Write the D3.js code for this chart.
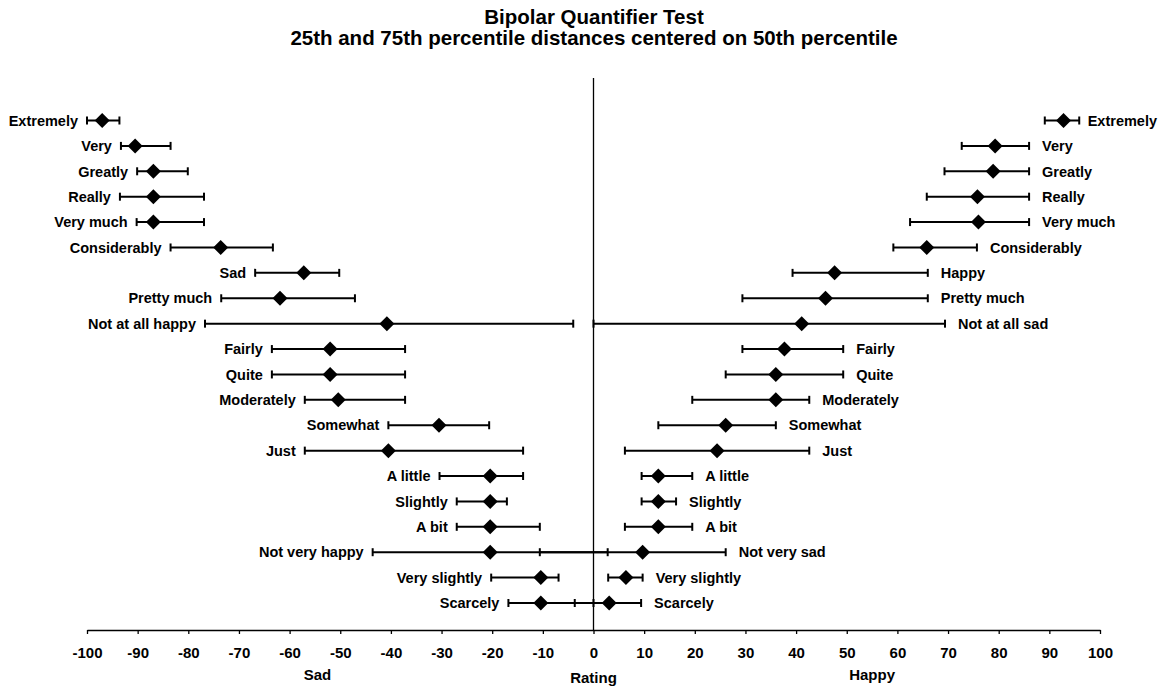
<!DOCTYPE html>
<html><head><meta charset="utf-8">
<script src="https://cdn.jsdelivr.net/npm/d3@7"></script>
<style>
body{margin:0;background:#fff}
text{font-family:"Liberation Sans",Arial,Helvetica,sans-serif;font-weight:bold;fill:#000}
</style>
</head><body>
<svg id="chart" width="1160" height="686"></svg>
<script>
const titleLines = ["Bipolar Quantifier Test", "25th and 75th percentile distances centered on 50th percentile"];

const sadLabels = ["Extremely","Very","Greatly","Really","Very much","Considerably","Sad","Pretty much","Not at all happy","Fairly","Quite","Moderately","Somewhat","Just","A little","Slightly","A bit","Not very happy","Very slightly","Scarcely"];
const sadMedian = [-97,-90.5,-86.9,-86.9,-86.9,-73.6,-57.2,-61.9,-40.8,-52,-52,-50.4,-30.5,-40.5,-20.4,-20.4,-20.4,-20.4,-10.4,-10.4];
const sadLow    = [-100,-93.3,-90.1,-93.5,-90.2,-83.5,-66.8,-73.5,-76.7,-63.5,-63.5,-57,-40.5,-57,-30.4,-27,-27,-43.6,-20.2,-16.8];
const sadHigh   = [-93.6,-83.5,-80.1,-76.9,-76.9,-63.3,-50.2,-47.1,-4,-37.2,-37.2,-37.2,-20.6,-13.9,-13.9,-17.1,-10.6,2.8,-6.9,0];

const happyLabels = ["Extremely","Very","Greatly","Really","Very much","Considerably","Happy","Pretty much","Not at all sad","Fairly","Quite","Moderately","Somewhat","Just","A little","Slightly","A bit","Not very sad","Very slightly","Scarcely"];
const happyMedian = [92.8,79.3,78.9,75.8,76,65.8,47.6,45.8,41.1,37.7,36,36,26.1,24.4,12.8,12.8,12.8,9.7,6.4,3.1];
const happyLow    = [89.1,72.7,69.3,65.8,62.5,59.2,39.3,29.4,0,29.4,26.1,19.5,12.8,6.2,9.5,9.5,6.2,-10.6,2.9,-3.7];
const happyHigh   = [95.9,86,86,86,86,75.7,66,66,69.4,49.3,49.3,42.6,36,42.6,19.5,16.3,19.5,26.1,9.7,9.4];

const xTicks = [-100,-90,-80,-70,-60,-50,-40,-30,-20,-10,0,10,20,30,40,50,60,70,80,90,100];
const axisTitles = [{t:"Sad", v:-54.5, dy:680},{t:"Rating", v:0, dy:683},{t:"Happy", v:55, dy:680}];

const svg = d3.select("#chart");
const x = d3.scaleLinear().domain([-100,100]).range([87,1100]);
const rows = d3.range(sadLabels.length);
const y = d3.scalePoint().domain(rows).range([120.5,603]);
const axisY = 630;

// title
svg.selectAll("text.title").data(titleLines).join("text")
  .attr("class","title")
  .attr("x",594).attr("y",(d,i)=>24+i*21)
  .attr("text-anchor","middle")
  .style("font-size","20.5px")
  .text(d=>d);

// vertical zero line
svg.append("line").attr("x1",x(0)).attr("x2",x(0)).attr("y1",78).attr("y2",axisY)
  .attr("stroke","#000").attr("stroke-width",1.3);

// x axis
const ax = svg.append("g").attr("transform",`translate(0,${axisY})`)
  .call(d3.axisBottom(x).tickValues(xTicks).tickSize(4).tickSizeOuter(0).tickPadding(13).tickFormat(d=>String(d)));
ax.select(".domain").attr("stroke","#000").attr("stroke-width",1.4);
ax.selectAll(".tick line").attr("stroke","#000").attr("stroke-width",1.3);
ax.selectAll(".tick text").style("font-size","15px").style("font-family",'"Liberation Sans",Arial,sans-serif').style("font-weight","bold");

svg.selectAll("text.axt").data(axisTitles).join("text").attr("class","axt")
  .attr("x",d=>x(d.v)).attr("y",d=>d.dy).attr("text-anchor","middle")
  .style("font-size","15px").text(d=>d.t);

function drawSeries(labels, med, lo, hi, side){
  const g = svg.append("g");
  const data = rows.map(i=>({i, label:labels[i], m:med[i], l:lo[i], h:hi[i]}));
  g.selectAll("line.bar").data(data).join("line").attr("class","bar")
    .attr("x1",d=>x(d.l)).attr("x2",d=>x(d.h)).attr("y1",d=>y(d.i)).attr("y2",d=>y(d.i))
    .attr("stroke","#000").attr("stroke-width",2);
  ["l","h"].forEach(k=>{
    g.selectAll("line.cap"+k).data(data).join("line").attr("class","cap"+k)
      .attr("x1",d=>x(d[k])).attr("x2",d=>x(d[k])).attr("y1",d=>y(d.i)-4).attr("y2",d=>y(d.i)+4)
      .attr("stroke","#000").attr("stroke-width",2);
  });
  g.selectAll("path.dia").data(data).join("path").attr("class","dia")
    .attr("d",d=>{const cx=x(d.m), cy=y(d.i); return `M${cx},${cy-7.5}L${cx+7.5},${cy}L${cx},${cy+7.5}L${cx-7.5},${cy}Z`;})
    .attr("fill","#000");
  const labs = g.selectAll("text.lab").data(data).join("text").attr("class","lab")
    .attr("y",d=>y(d.i)).attr("dy","0.36em")
    .attr("text-anchor","start")
    .style("font-size","14.5px")
    .text(d=>d.label);
  labs.each(function(d){
    const w = this.getComputedTextLength();
    let px;
    if(side<0){ px = Math.max(8, x(d.l)-9-w); }
    else { px = Math.min(x(d.h)+13, 1157-w); }
    d3.select(this).attr("x",px);
  });
}
drawSeries(sadLabels, sadMedian, sadLow, sadHigh, -1);
drawSeries(happyLabels, happyMedian, happyLow, happyHigh, 1);
</script>
</body></html>
